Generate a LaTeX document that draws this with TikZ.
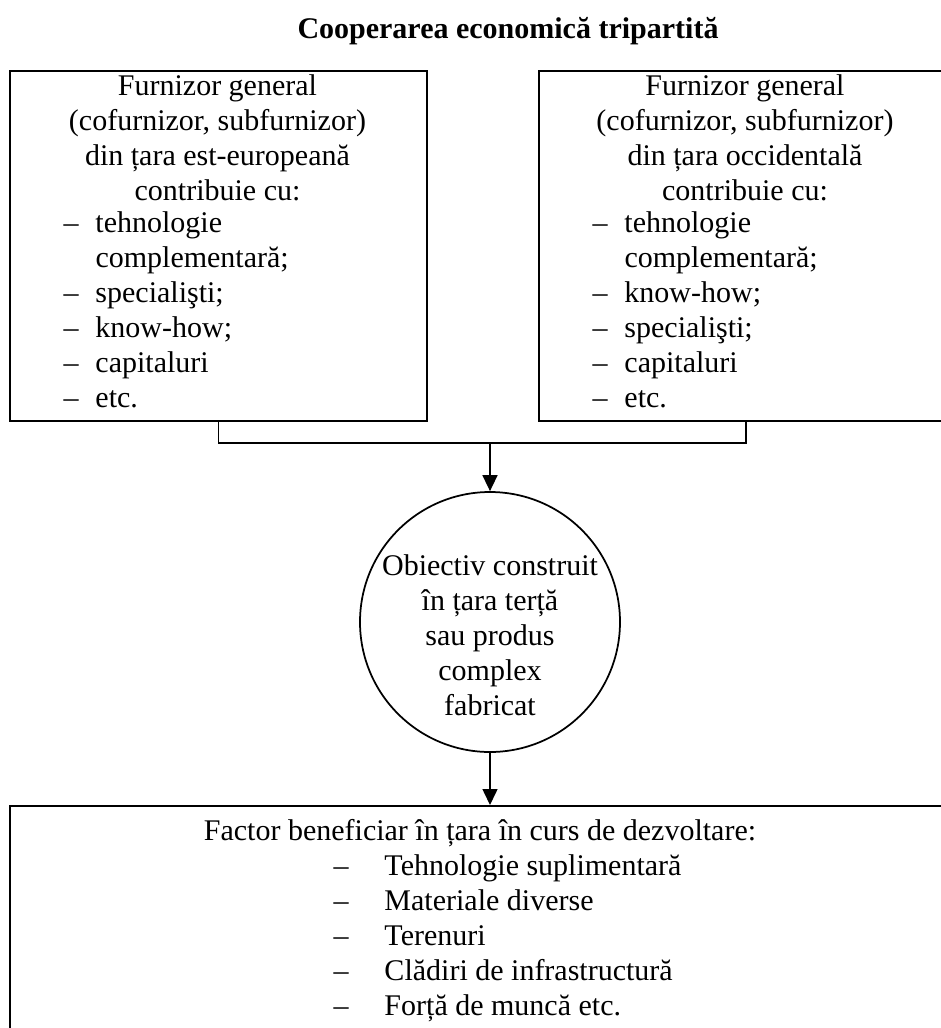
\documentclass[tikz,border=0pt]{standalone}
\usepackage{fontspec}
\setmainfont{Liberation Serif}
\usetikzlibrary{arrows.meta}

\tikzset{
  box/.style={draw, line width=0.7pt, inner sep=0pt, anchor=north west},
  body/.style={font=\fontsize{12}{14}\selectfont, inner sep=0pt},
  head/.style={body, align=center, anchor=north},
  items/.style={body, align=left, anchor=north west},
  link/.style={line width=0.6pt},
  arr/.style={link, -{Triangle[length=6.4pt,width=6pt]}},
}
\newcommand{\dsh}{\makebox[12.8pt][l]{–}}
\newcommand{\bdsh}{\makebox[20.4pt][l]{–}}

\begin{document}
\begin{tikzpicture}[x=0.4pt, y=-0.4pt]
    \useasboundingbox (0,0) rectangle (941,1028);

    % Title
    \node[body, font=\fontsize{12}{14}\selectfont\bfseries, anchor=base] (title) at (508,38) {Cooperarea economică tripartită};

    % Supplier boxes
    \node[box, minimum width=166.8pt, minimum height=140pt] (lbox) at (9,70) {};
    \node[box, minimum width=165.6pt, minimum height=140pt] (rbox) at (538,70) {};

    \node[head] (lhead) at (217.5,70.5) {\strut Furnizor general\\(cofurnizor, subfurnizor)\\din țara est-europeană\\contribuie cu:};
    \node[items] (llist) at (63,207.5) {\strut\dsh tehnologie\\ \hspace*{12.8pt}complementară;\\ \dsh specialişti;\\ \dsh know-how;\\ \dsh capitaluri\\ \dsh etc.};

    \node[head] (rhead) at (745,70.5) {\strut Furnizor general\\(cofurnizor, subfurnizor)\\din țara occidentală\\contribuie cu:};
    \node[items] (rlist) at (592,207.5) {\strut\dsh tehnologie\\ \hspace*{12.8pt}complementară;\\ \dsh know-how;\\ \dsh specialişti;\\ \dsh capitaluri\\ \dsh etc.};

    % Objective
    \node[draw, circle, line width=0.7pt, minimum size=104pt, inner sep=0pt] (circ) at (490,622) {};
    \node[body, align=center] (ctext) at (490,635) {Obiectiv construit\\în țara terță\\sau produs\\complex\\fabricat};

    % Beneficiary
    \node[box, minimum width=377.2pt, minimum height=96pt] (bbox) at (9,805) {};
    \node[body, anchor=base] (bhead) at (480,840) {Factor beneficiar în țara în curs de dezvoltare:};
    \node[items] (blist) at (333,850.5) {\strut\bdsh Tehnologie suplimentară\\ \bdsh Materiale diverse\\ \bdsh Terenuri\\ \bdsh Clădiri de infrastructură\\ \bdsh Forță de muncă etc.};

    % Connectors
    \coordinate (bus) at (490,443);
    \draw[link] (lbox.south) |- (bus) -| (rbox.south);
    \draw[arr] (bus) -- (circ.north);
    \draw[arr] (circ.south) -- (circ.south |- bbox.north);

\end{tikzpicture}
\end{document}
